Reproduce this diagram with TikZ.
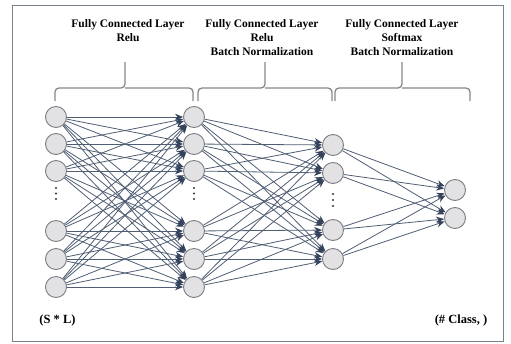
\documentclass[tikz,border=0pt]{standalone}
\usepackage{fontspec}
\setmainfont{Liberation Serif}
\usetikzlibrary{arrows.meta}
\definecolor{edgec}{RGB}{80,94,115}
\definecolor{tipc}{RGB}{52,66,92}
\definecolor{nodefill}{RGB}{226,226,228}
\definecolor{nodedraw}{RGB}{125,125,130}
\definecolor{bracec}{RGB}{135,135,135}
\definecolor{framec}{RGB}{120,130,140}
\begin{document}
\begin{tikzpicture}[x=1pt,y=-1pt,
  neuron/.style={circle,minimum size=21pt,inner sep=0pt,draw=nodedraw,fill=nodefill,line width=0.9pt},
  conn/.style={draw=edgec,line width=0.8pt,-{Stealth[length=8pt,width=6.5pt,color=tipc]}},
  bracepath/.style={draw=bracec,line width=1.3pt,rounded corners=4pt},
  toplabel/.style={font=\fontsize{11.5}{14}\selectfont\bfseries,align=center},
  botlabel/.style={font=\fontsize{12.5}{15}\selectfont\bfseries},
  dotc/.style={fill=black!80}]
\useasboundingbox (0,0) rectangle (511,343);
\draw[framec,line width=1pt] (12.5,5.5) rectangle (503,341.5);
% labels
\node[toplabel,anchor=north] (l1) at (128,16) {Fully Connected Layer\\Relu};
\node[toplabel,anchor=north] (l2) at (262,16) {Fully Connected Layer\\Relu\\Batch Normalization};
\node[toplabel,anchor=north] (l3) at (402,16) {Fully Connected Layer\\Softmax\\Batch Normalization};
% braces
\draw[bracepath] (55,101) -- (55,88) -- (125,88) -- (125,62);
\draw[bracepath] (125,88) -- (193,88) -- (193,101);
\draw[bracepath] (198,101) -- (198,88) -- (265,88) -- (265,62);
\draw[bracepath] (265,88) -- (332,88) -- (332,101);
\draw[bracepath] (335,101) -- (335,88) -- (402,88) -- (402,62);
\draw[bracepath] (402,88) -- (470,88) -- (470,101);
% neurons
\foreach \y [count=\i] in {117,144,171,231,259,287} {
  \node[neuron] (a\i) at (56,\y) {};
  \node[neuron] (b\i) at (194,\y) {};
}
\foreach \y [count=\i] in {145,173,230,259} {
  \node[neuron] (c\i) at (333,\y) {};
}
\foreach \y [count=\i] in {190,218} {
  \node[neuron] (d\i) at (455,\y) {};
}
% dots
\foreach \x in {56,194} {
  \foreach \y in {188,193.5,199} { \fill[dotc] (\x,\y) circle (1.2); }
}
\foreach \y in {194,200,206} { \fill[dotc] (333,\y) circle (1.2); }
% connections
\foreach \i in {1,...,6} { \foreach \j in {1,...,6} { \draw[conn] (a\i) -- (b\j); } }
\foreach \i in {1,...,6} { \foreach \j in {1,...,4} { \draw[conn] (b\i) -- (c\j); } }
\foreach \i in {1,...,4} { \foreach \j in {1,2} { \draw[conn] (c\i) -- (d\j); } }
% bottom labels
\node[botlabel] (in) at (57.5,320) {(S * L)};
\node[botlabel] (out) at (461,320) {(\# Class, )};
\end{tikzpicture}
\end{document}
